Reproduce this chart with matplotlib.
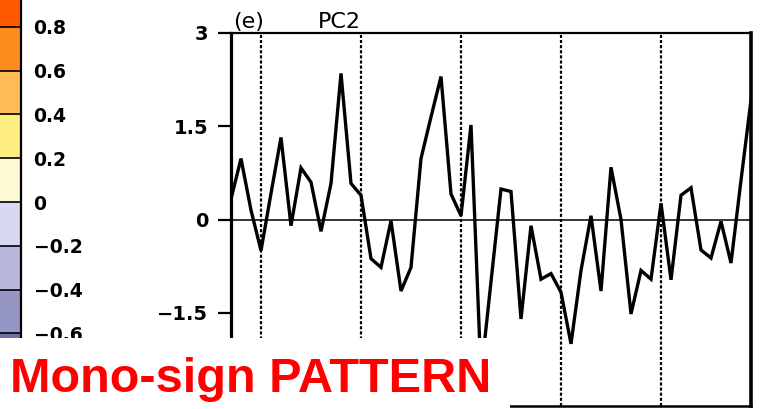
import matplotlib
matplotlib.use("Agg")
import matplotlib.pyplot as plt
import numpy as np
from matplotlib.colors import ListedColormap, BoundaryNorm
from matplotlib.cm import ScalarMappable
from matplotlib.patches import Rectangle

# PC2 time series (one value per year)
years = np.arange(1957, 2010)
pc2 = [0.33, 0.98, 0.15, -0.5, 0.42, 1.32, -0.1, 0.83, 0.6, -0.19,
       0.58, 2.35, 0.58, 0.39, -0.63, -0.77, -0.02, -1.15, -0.77, 0.98,
       1.65, 2.3, 0.41, 0.06, 1.52, -2.5, -1.0, 0.49, 0.45, -1.6,
       -0.1, -0.96, -0.87, -1.17, -2.0, -0.82, 0.06, -1.15, 0.84, 0.0,
       -1.52, -0.82, -0.96, 0.26, -0.97, 0.39, 0.51, -0.49, -0.62, -0.03,
       -0.7, 0.63, 1.92]
decades = [1960, 1970, 1980, 1990, 2000]
yticks = [-1.5, 0, 1.5, 3]
ytick_labels = ["\u22121.5", "0", "1.5", "3"]

# colour bar of the neighbouring map panel
cb_levels = [-0.8, -0.6, -0.4, -0.2, 0, 0.2, 0.4, 0.6, 0.8, 1.0]
cb_colors = ["#7070aa", "#9696c4", "#b8b8dc", "#d8d8f0", "#fff8d5",
             "#ffee80", "#ffbb55", "#ff8c1e", "#ff5a00"]
cb_ticks = [-0.6, -0.4, -0.2, 0, 0.2, 0.4, 0.6, 0.8]
cb_labels = ["\u22120.6", "\u22120.4", "\u22120.2", "0",
             "0.2", "0.4", "0.6", "0.8"]

W, H = 761, 409
fig = plt.figure(figsize=(W / 100, H / 100), dpi=100)

# main time series panel
ax = fig.add_axes([231 / W, 3 / H, 520 / W, 373 / H])
ax.plot(years, pc2, color="black", lw=2.4, solid_joinstyle="miter", zorder=3)
ax.axhline(0, color="black", lw=1.1, zorder=2)
for d in decades:
    ax.axvline(d, color="black", lw=1.6, linestyle=(0, (1.4, 0.9)), zorder=1)
ax.set_xlim(years[0], years[-1])
ax.set_ylim(-3, 3)
ax.set_yticks(yticks)
ax.set_yticklabels(ytick_labels, fontweight="bold")
ax.set_xticks([])
ax.tick_params(axis="y", direction="out", length=9.5, width=1.6,
               labelsize=14, pad=7)
ax.spines["left"].set_linewidth(2.3)
ax.spines["top"].set_linewidth(1.6)
ax.spines["right"].set_linewidth(2.6)
ax.spines["bottom"].set_linewidth(1.8)

fig.text(233 / W, (H - 28) / H, "(e)", fontsize=16, va="baseline", ha="left")
fig.text(318 / W, (H - 28) / H, "PC2", fontsize=16, va="baseline", ha="left")

# colour bar strip at the left edge
cax = fig.add_axes([-10 / W, 32 / H, 31 / W, 393.75 / H])
cmap = ListedColormap(cb_colors)
norm = BoundaryNorm(cb_levels, cmap.N)
cb = fig.colorbar(ScalarMappable(norm=norm, cmap=cmap), cax=cax,
                  ticks=cb_ticks, drawedges=True)
cb.ax.set_yticklabels(cb_labels, fontweight="bold")
cb.ax.tick_params(length=0, labelsize=13.5, pad=9)
cb.outline.set_linewidth(1.6)
cb.dividers.set_linewidth(1.2)

# white label box covering the lower left corner
fig.add_artist(Rectangle((0, 0), 510 / W, (H - 338) / H,
                         transform=fig.transFigure, facecolor="white",
                         edgecolor="none", zorder=10))
fig.text(10 / W, (H - 392) / H, "Mono-sign PATTERN", color="#ff0000",
         fontsize=35, fontweight="bold", family="Liberation Sans",
         va="baseline", ha="left", zorder=11)

fig.savefig("out.png", dpi=100)
